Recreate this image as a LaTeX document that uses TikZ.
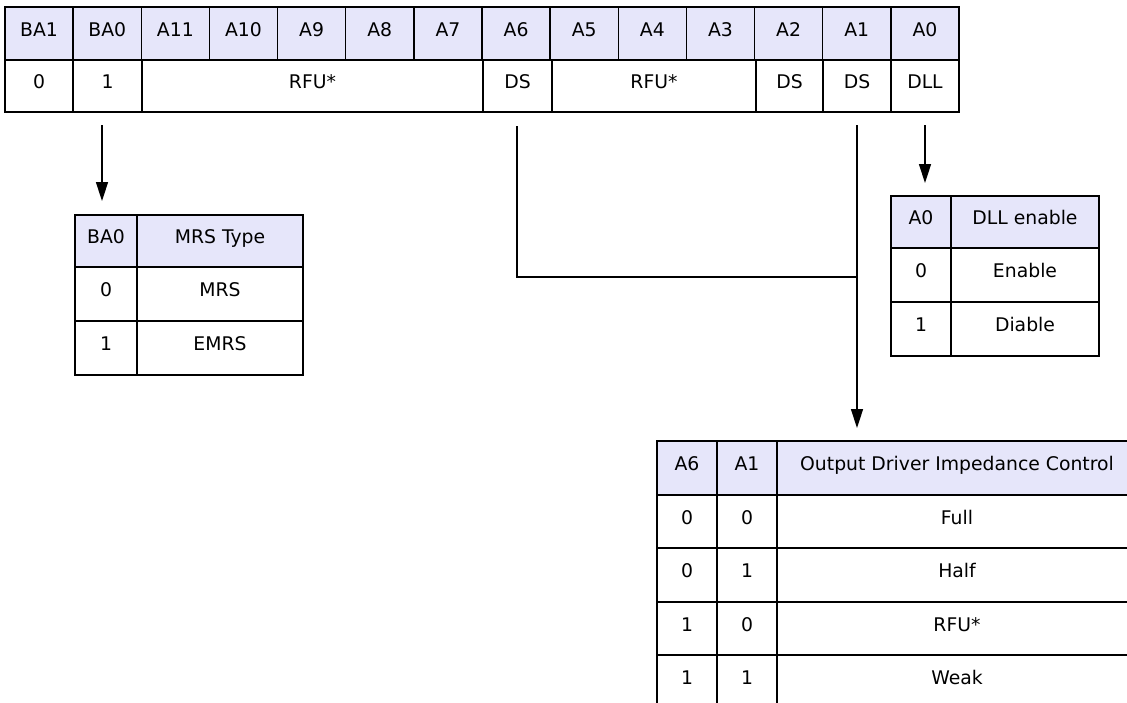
\documentclass[tikz,border=0pt]{standalone}
\usepackage{fontspec}
\setmainfont{DejaVu Sans}
\usetikzlibrary{arrows.meta}
\definecolor{hdr}{RGB}{230,230,250}
\tikzset{
  cell/.style={draw=black, line width=1.5pt, rectangle, inner sep=0pt, fill=white,
    font=\fontsize{18.8}{22}\selectfont, text height=13.7pt, text depth=8pt},
  head/.style={cell, fill=hdr},
  conn/.style={line width=1.5pt},
  arr/.style={conn, -{Triangle[width=12pt,length=19pt]}}
}
\newcommand\mycell[7]{%
  \node[#6, minimum width={((#4)-(#2))*1pt}, minimum height={((#5)-(#3))*1pt}] (#1)
    at ({((#2)+(#4))/2},{((#3)+(#5))/2}) {#7};}
\begin{document}
\begin{tikzpicture}[x=1pt,y=-1pt]
\path[use as bounding box] (0,0) rectangle (1127,702);
\clip (0,0) rectangle (1127,702);
% top register table
\foreach \t [count=\i from 0] in {BA1,BA0,A11,A10,A9,A8,A7,A6,A5,A4,A3,A2,A1,A0}{
  \mycell{h\i}{5+68.143*\i}{7}{5+68.143*(\i+1)}{60}{head}{\t}
}
\mycell{v0}{5}{60}{73}{112}{cell}{0}
\mycell{v1}{73}{60}{142}{112}{cell}{1}
\mycell{v2}{142}{60}{483}{112}{cell}{RFU*}
\mycell{v3}{483}{60}{552}{112}{cell}{DS}
\mycell{v4}{552}{60}{756}{112}{cell}{RFU*}
\mycell{v5}{756}{60}{823}{112}{cell}{DS}
\mycell{v6}{823}{60}{891}{112}{cell}{DS}
\mycell{v7}{891}{60}{959}{112}{cell}{DLL}
% MRS type table
\mycell{m00}{75}{215}{137}{267}{head}{BA0}
\mycell{m01}{137}{215}{303}{267}{head}{MRS Type}
\mycell{m10}{75}{267}{137}{321}{cell}{0}
\mycell{m11}{137}{267}{303}{321}{cell}{MRS}
\mycell{m20}{75}{321}{137}{375}{cell}{1}
\mycell{m21}{137}{321}{303}{375}{cell}{EMRS}
% DLL table
\mycell{d00}{891}{196}{951}{248}{head}{A0}
\mycell{d01}{951}{196}{1099}{248}{head}{DLL enable}
\mycell{d10}{891}{248}{951}{302}{cell}{0}
\mycell{d11}{951}{248}{1099}{302}{cell}{Enable}
\mycell{d20}{891}{302}{951}{356}{cell}{1}
\mycell{d21}{951}{302}{1099}{356}{cell}{Diable}
% output driver table
\mycell{o00}{657}{441}{717}{495}{head}{A6}
\mycell{o01}{717}{441}{777}{495}{head}{A1}
\mycell{o02}{777}{441}{1137}{495}{head}{Output Driver Impedance Control}
\mycell{o10}{657}{495}{717}{548}{cell}{0}
\mycell{o11}{717}{495}{777}{548}{cell}{0}
\mycell{o12}{777}{495}{1137}{548}{cell}{Full}
\mycell{o20}{657}{548}{717}{602}{cell}{0}
\mycell{o21}{717}{548}{777}{602}{cell}{1}
\mycell{o22}{777}{548}{1137}{602}{cell}{Half}
\mycell{o30}{657}{602}{717}{655}{cell}{1}
\mycell{o31}{717}{602}{777}{655}{cell}{0}
\mycell{o32}{777}{602}{1137}{655}{cell}{RFU*}
\mycell{o40}{657}{655}{717}{709}{cell}{1}
\mycell{o41}{717}{655}{777}{709}{cell}{1}
\mycell{o42}{777}{655}{1137}{709}{cell}{Weak}
% connectors
\coordinate (sBA0) at (102,125);
\coordinate (eBA0) at (102,201);
\coordinate (sA6) at (517,126);
\coordinate (jA6) at (517,277);
\coordinate (kA6) at (857,277);
\coordinate (sA1) at (857,125);
\coordinate (eA1) at (857,428);
\coordinate (sA0) at (925,125);
\coordinate (eA0) at (925,183);
\draw[arr] (sBA0) -- (eBA0);
\draw[conn] (sA6) -- (jA6) -- (kA6);
\draw[arr] (sA1) -- (eA1);
\draw[arr] (sA0) -- (eA0);
\end{tikzpicture}
\end{document}
